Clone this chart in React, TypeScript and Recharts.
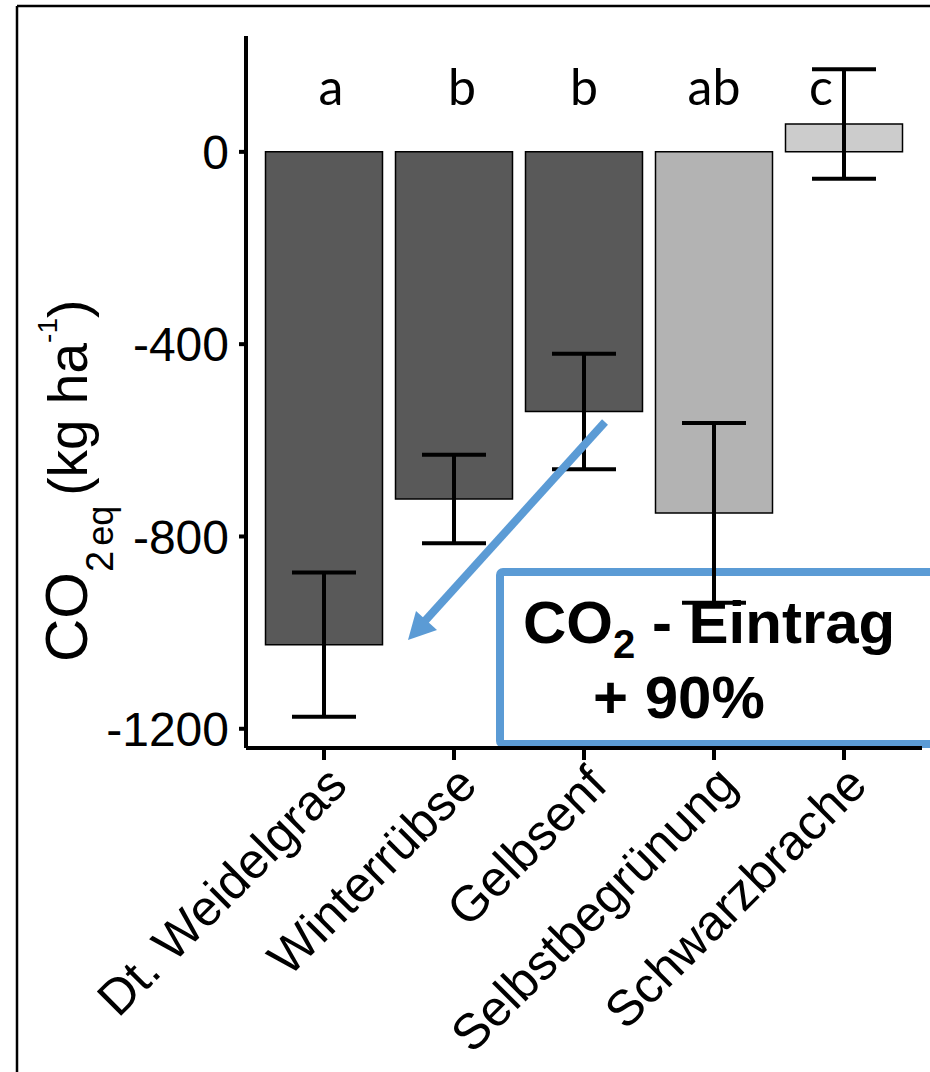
import React from 'react';
import { BarChart, Bar, XAxis, YAxis, ErrorBar, Cell, LabelList } from 'recharts';

// Fruchtfolge-Varianten und CO2-Bilanz (kg CO2eq / ha)
const categories = ['Dt. Weidelgras', 'Winterrübse', 'Gelbsenf', 'Selbstbegrünung', 'Schwarzbrache'];
const co2Values = [-1025, -722, -540, -751, 58];
const co2Errors = [150, 92, 120, 187, 114];
const letters = ['a', 'b', 'b', 'ab', 'c'];
const barFills = ['#595959', '#595959', '#595959', '#b3b3b3', '#cccccc'];
const yTicks = [-1200, -800, -400, 0];

const data = categories.map((name, i) => ({
  name,
  value: co2Values[i],
  err: co2Errors[i],
  letter: letters[i],
}));

const SANS = '"Liberation Sans", Arial, sans-serif';
const BLUE = '#5b9bd5';

// kleine Verschiebung der Signifikanzbuchstaben
const letterShift = [7, 8, 0, 0, -23];

const XTick = (props: any) => {
  const { x, y, payload } = props;
  return (
    <text
      x={x}
      y={y}
      transform={`rotate(-45, ${x}, ${y})`}
      textAnchor="end"
      dy="0.72em"
      fontSize={50}
      fontFamily={SANS}
      fill="#000"
    >
      {payload.value}
    </text>
  );
};

const LetterLabel = (props: any) => {
  const { x, width, index, value } = props;
  return (
    <text
      x={x + width / 2 + letterShift[index]}
      y={105}
      textAnchor="middle"
      fontSize={50}
      fontFamily="Lato, sans-serif"
      fill="#000"
    >
      {value}
    </text>
  );
};

export default function App() {
  return (
    <div style={{ position: 'absolute', left: 0, top: 0, width: 930, height: 1072, background: '#fff', overflow: 'hidden' }}>
      {/* Rahmen, Kasten und Achsentitel (hinter dem Diagramm) */}
      <svg width={930} height={1072} style={{ position: 'absolute', left: 0, top: 0 }}>
        <line x1={17} y1={6} x2={930} y2={6} stroke="#000" strokeWidth={2.5} />
        <line x1={17} y1={6} x2={17} y2={1072} stroke="#000" strokeWidth={2.5} />
        <rect x={500} y={572} width={460} height={172} rx={3} fill="#fff" stroke={BLUE} strokeWidth={8} />
        <text x={523} y={643} fontSize={60} fontWeight="bold" fontFamily={SANS} fill="#000">
          <tspan>CO</tspan>
          <tspan fontSize={40} dy={15}>2</tspan>
          <tspan dy={-15}> - Eintrag</tspan>
        </text>
        <text x={593} y={718} fontSize={60} fontWeight="bold" fontFamily={SANS} fill="#000">
          + 90%
        </text>
        <text transform="translate(87, 662) rotate(-90)" fontSize={60} fontFamily={SANS} fill="#000">
          <tspan>CO</tspan>
          <tspan fontSize={38} dy={26}>2</tspan>
          <tspan fontSize={36} dx={5}>eq</tspan>
          <tspan fontSize={55} dx={10} dy={-26}>(kg ha</tspan>
          <tspan fontSize={28} dy={-30}>-1</tspan>
          <tspan fontSize={55} dy={30}>)</tspan>
        </text>
      </svg>

      <div style={{ position: 'absolute', left: 0, top: 0 }}>
        <BarChart
          width={930}
          height={1072}
          data={data}
          margin={{ top: 36, right: 8, bottom: 24, left: 0 }}
          barCategoryGap="5%"
        >
          <XAxis
            dataKey="name"
            interval={0}
            height={300}
            padding={{ left: 13, right: 13 }}
            tickSize={12}
            tickMargin={2}
            axisLine={{ stroke: '#000', strokeWidth: 4 }}
            tickLine={{ stroke: '#000', strokeWidth: 4 }}
            tick={<XTick />}
          />
          <YAxis
            type="number"
            domain={[-1240, 241]}
            ticks={yTicks}
            width={246}
            tickSize={7}
            tickMargin={10}
            axisLine={{ stroke: '#000', strokeWidth: 4 }}
            tickLine={{ stroke: '#000', strokeWidth: 4 }}
            tick={{ fontSize: 48, fill: '#000', fontFamily: SANS }}
          />
          <Bar dataKey="value" stroke="#000" strokeWidth={1.5} isAnimationActive={false}>
            {data.map((d, i) => (
              <Cell key={d.name} fill={barFills[i]} />
            ))}
            <ErrorBar dataKey="err" direction="y" width={32} stroke="#000" strokeWidth={4} isAnimationActive={false} />
            <LabelList dataKey="letter" content={<LetterLabel />} />
          </Bar>
        </BarChart>
      </div>

      {/* Pfeil (vor dem Diagramm) */}
      <svg width={930} height={1072} style={{ position: 'absolute', left: 0, top: 0, pointerEvents: 'none' }}>
        <line x1={605} y1={422} x2={424} y2={622} stroke={BLUE} strokeWidth={8} />
        <polygon points="408,640 416,611 437,630" fill={BLUE} />
      </svg>
    </div>
  );
}
